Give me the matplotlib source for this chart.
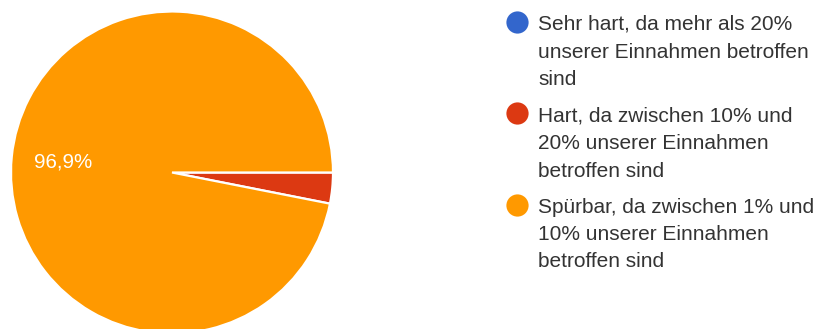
import matplotlib
matplotlib.use("Agg")
import matplotlib.pyplot as plt
from matplotlib.lines import Line2D

plt.rcParams['font.family'] = ['Liberation Sans', 'DejaVu Sans']

# Response categories and their shares (%)
categories = [
    "Sehr hart, da mehr als 20% unserer Einnahmen betroffen sind",
    "Hart, da zwischen 10% und 20% unserer Einnahmen betroffen sind",
    "Spürbar, da zwischen 1% und 10% unserer Einnahmen betroffen sind",
]
legend_lines = [
    ["Sehr hart, da mehr als 20%", "unserer Einnahmen betroffen", "sind"],
    ["Hart, da zwischen 10% und", "20% unserer Einnahmen", "betroffen sind"],
    ["Spürbar, da zwischen 1% und", "10% unserer Einnahmen", "betroffen sind"],
]
shares = [0.0, 3.1, 96.9]
colors = ["#3366cc", "#dc3912", "#ff9900"]

W, H = 825, 329
fig = plt.figure(figsize=(W / 100, H / 100), dpi=100)
fig.patch.set_facecolor("white")

# Pie axes: centre (172, 172.5) px from top-left, radius 161 px
cx, cy, r = 172, 172.5, 161
ax = fig.add_axes([(cx - r) / W, (H - cy - r) / H, 2 * r / W, 2 * r / H])
ax.axis("off")

vals = [v for v in shares if v > 0]
cols = [c for v, c in zip(shares, colors) if v > 0]


def fmt(p):
    return (f"{p:.1f}".replace(".", ",") + "%") if p >= 5 else ""


wedges, texts, autotexts = ax.pie(
    vals, colors=cols, startangle=0, counterclock=False, radius=1.0,
    autopct=fmt, pctdistance=0.68,
    wedgeprops=dict(edgecolor="white", linewidth=1.6),
    textprops=dict(color="white", fontsize=14.8),
)
for t in autotexts:
    t.set_ha("center")
    t.set_va("center")
ax.set_xlim(-1, 1)
ax.set_ylim(-1, 1)
ax.set_aspect("equal")

# Legend drawn line by line
text_color = "#333333"
baselines = [[30, 57.5, 85], [121, 149, 177], [213, 240, 267]]
for lines, ys, c in zip(legend_lines, baselines, colors):
    fig.add_artist(Line2D([517 / W], [1 - (ys[0] - 8) / H], marker="o",
                          markersize=16, color=c, markeredgewidth=0,
                          transform=fig.transFigure))
    for line, y in zip(lines, ys):
        fig.text(538 / W, 1 - y / H, line, fontsize=15.0, color=text_color,
                 ha="left", va="baseline")

fig.savefig("out.png", dpi=100, facecolor="white")
